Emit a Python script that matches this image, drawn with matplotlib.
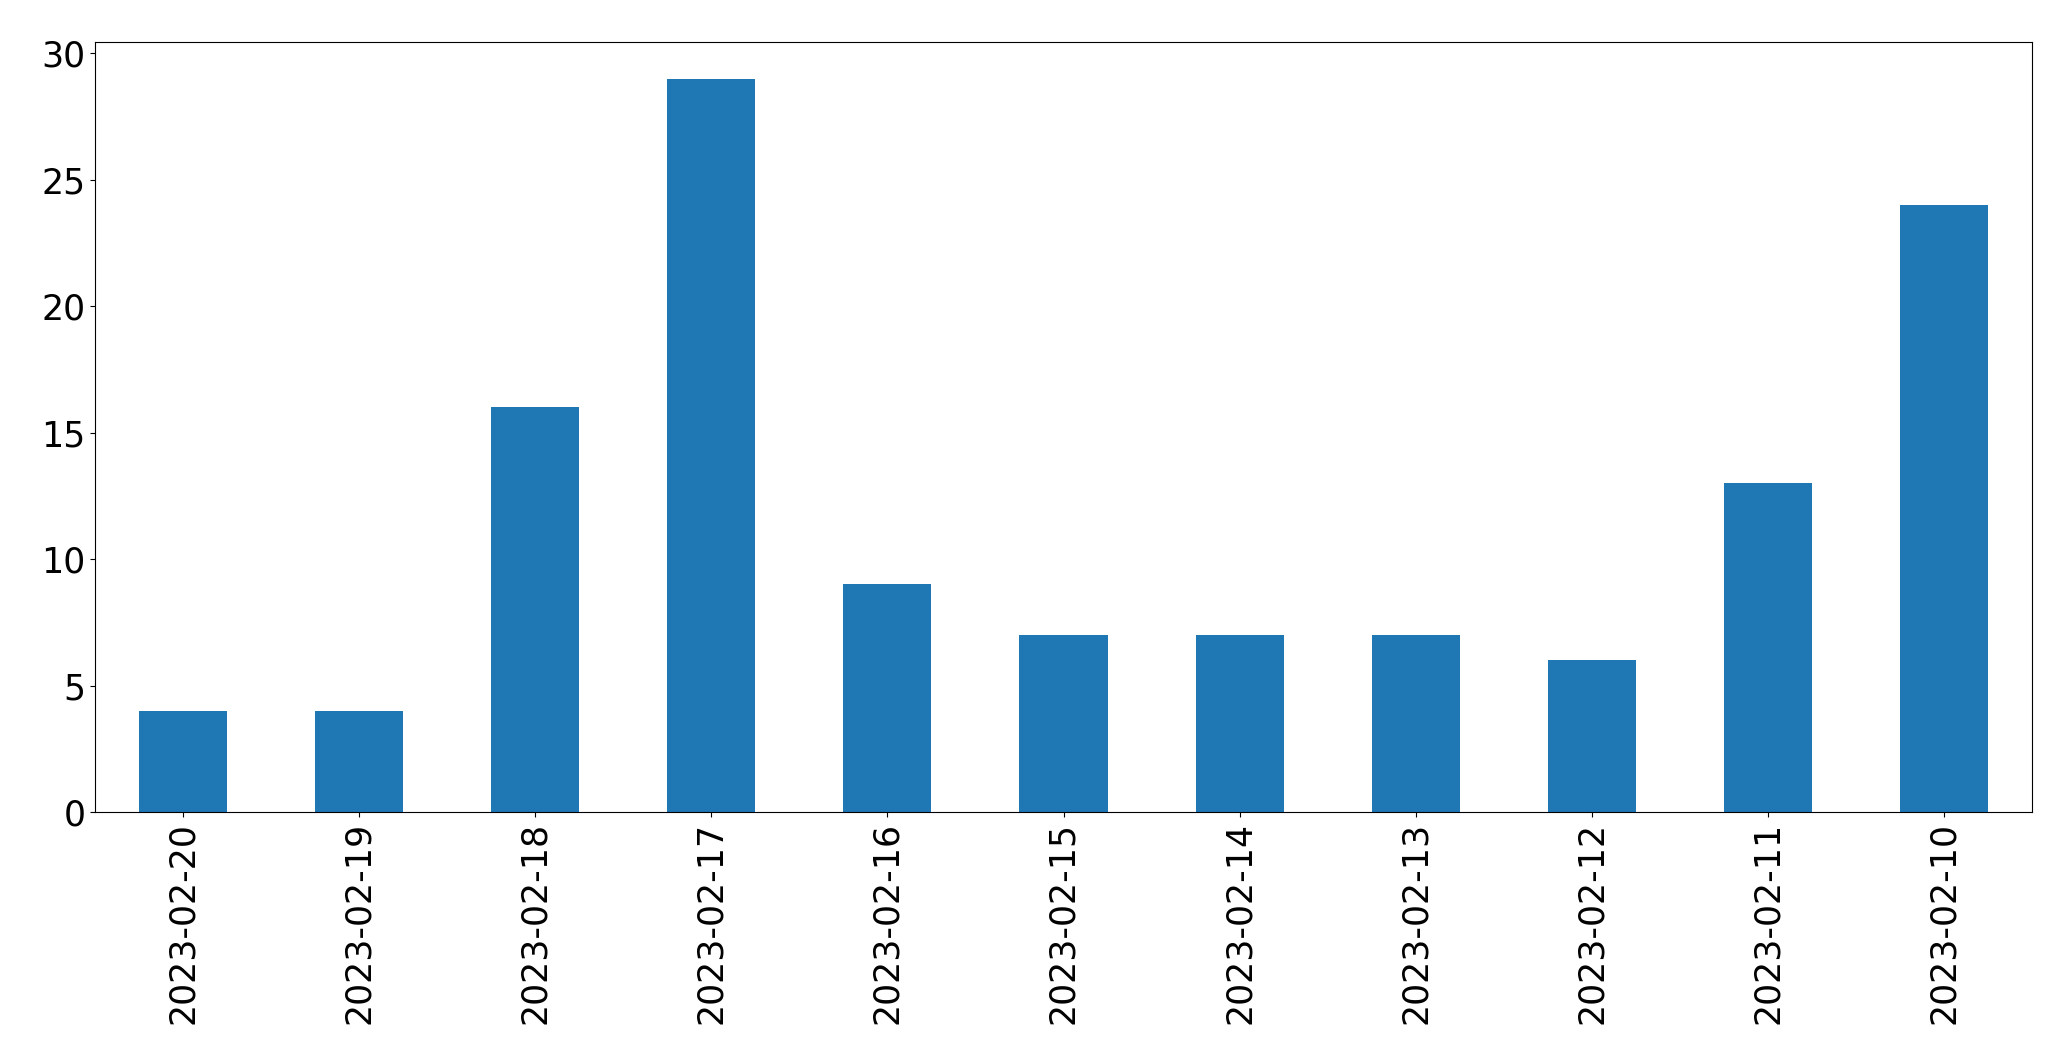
import matplotlib
matplotlib.use("Agg")
import matplotlib.pyplot as plt

dates = ["2023-02-20", "2023-02-19", "2023-02-18", "2023-02-17", "2023-02-16",
         "2023-02-15", "2023-02-14", "2023-02-13", "2023-02-12", "2023-02-11",
         "2023-02-10"]
counts = [4, 4, 16, 29, 9, 7, 7, 7, 6, 13, 24]

W, H = 2071, 1064
fig = plt.figure(figsize=(W / 100, H / 100), dpi=100)
left, right, top, bottom = 95, 2032, 42, 812
ax = fig.add_axes([left / W, 1 - bottom / H, (right - left) / W, (bottom - top) / H])
x = list(range(len(dates)))
ax.bar(x, counts, width=0.5, color="#1f77b4")
ax.set_xlim(-0.5, len(dates) - 0.5)
ax.set_ylim(0, 30.45)
ax.set_xticks(x)
ax.set_xticklabels(dates, rotation=90)
ax.set_yticks([0, 5, 10, 15, 20, 25, 30])
ax.tick_params(labelsize=25)
fig.savefig("out.png", dpi=100)
